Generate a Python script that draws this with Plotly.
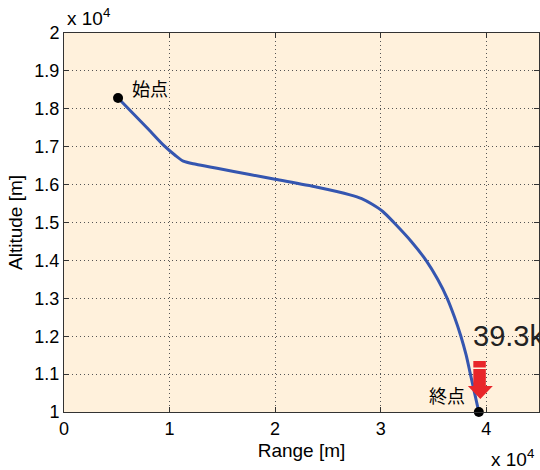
import plotly.graph_objects as go

# Trajectory data
range_m = [5120, 6500, 8000, 9500, 10500, 11300, 12500, 14500, 17600, 20000,
           24000, 27100, 28200, 29200, 30200, 31250, 32900, 34300, 35400, 36300,
           37000, 37600, 38100, 38500, 38900, 39300]
altitude_m = [18285, 17890, 17460, 17020, 16780, 16620, 16536, 16430, 16266, 16140,
              15930, 15730, 15630, 15480, 15290, 15000, 14500, 14000, 13500, 13000,
              12500, 12000, 11500, 11000, 10500, 10000]

x_tickvals = [0, 10000, 20000, 30000, 40000]
x_ticktext = ["0", "1", "2", "3", "4"]
y_tickvals = [10000, 11000, 12000, 13000, 14000, 15000, 16000, 17000, 18000, 19000, 20000]
y_ticktext = ["1", "1.1", "1.2", "1.3", "1.4", "1.5", "1.6", "1.7", "1.8", "1.9", "2"]

start_label = "始点"
end_label = "終点"
range_label = "39.3k"

FONT = "Liberation Sans, Arial, Noto Sans CJK JP"

fig = go.Figure()
fig.add_trace(go.Scatter(
    x=range_m, y=altitude_m, mode="lines",
    line=dict(color="#3556B0", width=3, shape="spline", smoothing=0.8),
    showlegend=False, hoverinfo="skip"))
fig.add_trace(go.Scatter(
    x=[range_m[0], range_m[-1]], y=[altitude_m[0], altitude_m[-1]], mode="markers",
    marker=dict(color="black", size=10),
    showlegend=False, hoverinfo="skip", cliponaxis=False))

ex, ey = range_m[-1], altitude_m[-1]
# red block arrow above the end point (pixel-sized, anchored at end point)
fig.add_shape(type="path", xref="x", yref="y", xsizemode="pixel", ysizemode="pixel",
              xanchor=ex, yanchor=ey,
              path="M -5.5,43 L 7,43 L 7,26 L 14,26 L 1.5,13 L -11,26 L -5.5,26 Z",
              fillcolor="#E8262A", line=dict(width=0))
fig.add_shape(type="path", xref="x", yref="y", xsizemode="pixel", ysizemode="pixel",
              xanchor=ex, yanchor=ey,
              path="M -5.5,51 L 7,51 L 7,44.5 L -5.5,44.5 Z",
              fillcolor="#E8262A", line=dict(width=0))

fig.add_annotation(x=range_m[0], y=altitude_m[0], text=start_label, showarrow=False,
                   xanchor="left", yanchor="middle", xshift=12, yshift=8,
                   font=dict(family=FONT, size=18, color="black"))
fig.add_annotation(x=ex, y=ey, text=end_label, showarrow=False,
                   xanchor="right", yanchor="middle", xshift=-12, yshift=15,
                   font=dict(family=FONT, size=18, color="black"))
fig.add_annotation(x=ex, y=ey, text=range_label, showarrow=False,
                   xanchor="left", yanchor="middle", xshift=-8, yshift=76,
                   font=dict(family=FONT, size=29, color="#222222"))
fig.add_annotation(xref="paper", yref="paper", x=0, y=1, text="x 10<sup>4</sup>",
                   showarrow=False, xanchor="left", yanchor="bottom", xshift=1, yshift=2,
                   font=dict(family=FONT, size=19, color="black"))
fig.add_annotation(xref="paper", yref="paper", x=1, y=0, text="x 10<sup>4</sup>",
                   showarrow=False, xanchor="right", yanchor="top", xshift=-3, yshift=-32,
                   font=dict(family=FONT, size=19, color="black"))

axis_common = dict(showline=True, linecolor="#333333", linewidth=1, mirror="ticks",
                   ticks="inside", ticklen=5, tickcolor="#333333",
                   showgrid=True, gridcolor="#555555", griddash="1px,3px", gridwidth=1,
                   zeroline=False, tickfont=dict(family=FONT, size=18, color="black"),
                   title_font=dict(family=FONT, size=19, color="black"))

fig.update_xaxes(range=[0, 45000], tickvals=x_tickvals, ticktext=x_ticktext,
                 title_text="Range [m]", title_standoff=6, **axis_common)
fig.update_yaxes(range=[10000, 20000], tickvals=y_tickvals, ticktext=y_ticktext,
                 title_text="Altitude [m]", title_standoff=6, **axis_common)

fig.update_layout(width=540, height=470, margin=dict(l=64, r=1, t=33, b=58),
                  plot_bgcolor="#FFF1DC", paper_bgcolor="white",
                  font=dict(family=FONT))
fig.write_html("out.html")
